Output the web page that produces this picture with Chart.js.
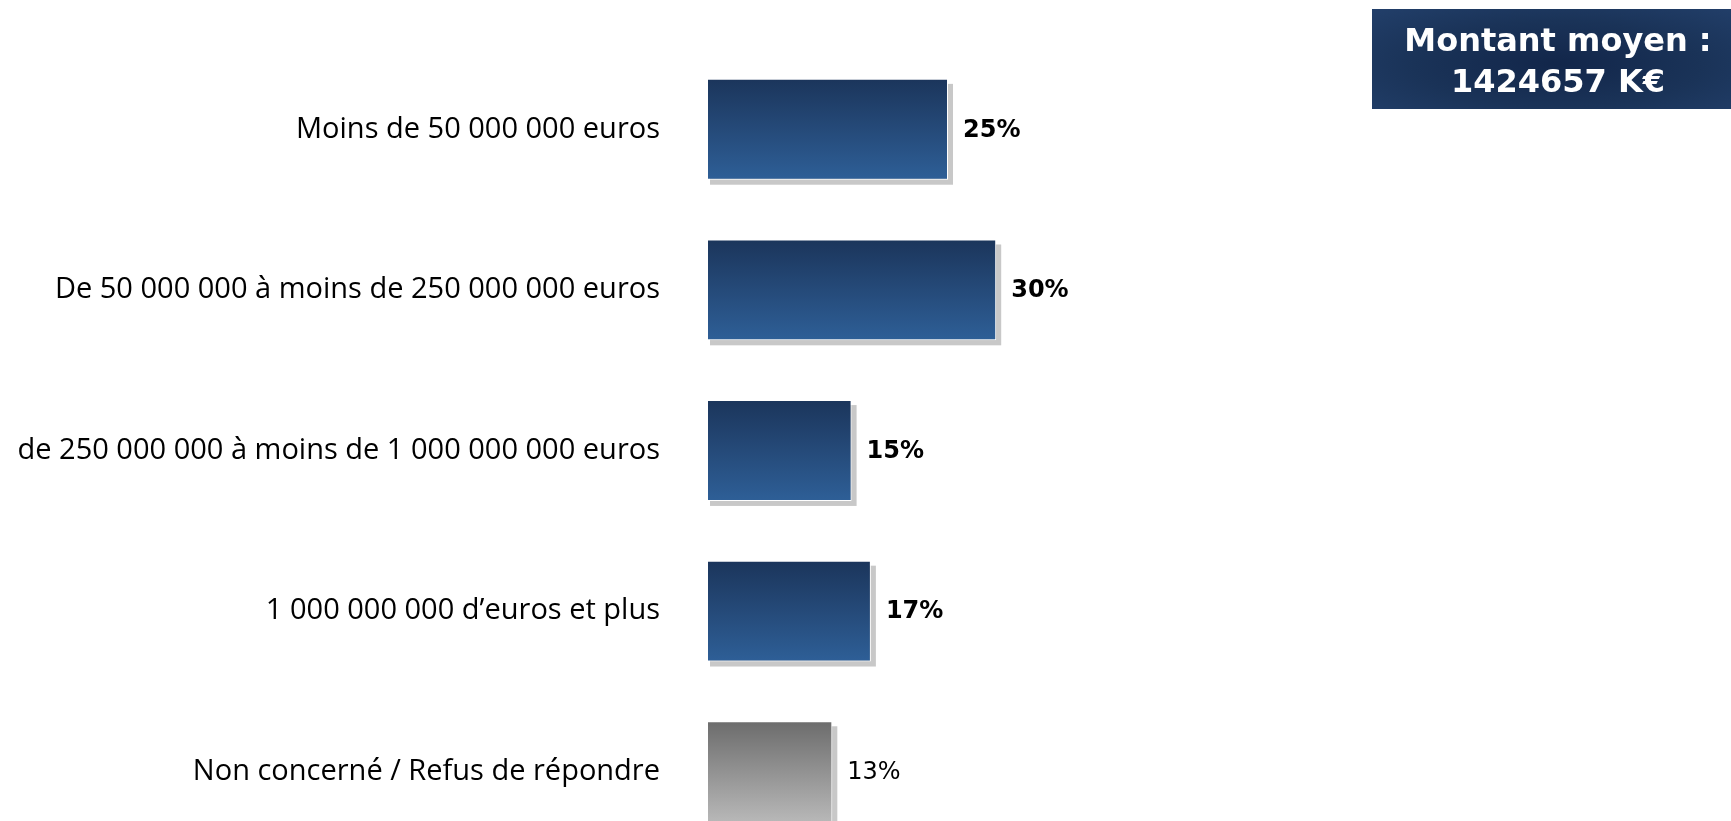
<!DOCTYPE html>
<html>
<head>
<meta charset="utf-8">
<script src="https://cdn.jsdelivr.net/npm/chart.js@4/dist/chart.umd.min.js"></script>
<style>
    html, body { margin: 0; padding: 0; background: #fff; overflow: hidden; }
    #wrap { position: relative; width: 1731px; height: 852px; }
    #avg {
        position: absolute; left: 1372px; top: 9px; width: 372px; height: 100px;
        background: radial-gradient(ellipse at 50% 55%, #12264a 0%, #1a3358 55%, #223f6a 100%);
        color: #fff; font-family: "DejaVu Sans", sans-serif; font-weight: bold;
        font-size: 32px; line-height: 41px; text-align: center;
        box-sizing: border-box; padding-top: 11px; padding-right: 0;
    }
</style>
</head>
<body>
<div id="wrap">
    <canvas id="barChart" width="1731" height="852"></canvas>
    <div id="avg"></div>
</div>
<script>
(function () {
    "use strict";

    // --- Data -----------------------------------------------------------
    const categories = [
        "Moins de 50 000 000 euros",
        "De 50 000 000 à moins de 250 000 000 euros",
        "de 250 000 000 à moins de 1 000 000 000 euros",
        "1 000 000 000 d’euros et plus",
        "Non concerné / Refus de répondre"
    ];
    const values = [25, 30, 15, 17, 13];
    const isAnswer = [true, true, true, true, false];   // last one drawn grey
    const avgLines = ["Montant moyen :", "1424657 K€"];

    document.getElementById("avg").innerHTML = avgLines.join("<br>");

    const BAR_PCT = 0.628;

    // per-bar vertical gradient, built from the y scale position
    function barFill(context) {
        const chart = context.chart;
        const y = chart.scales.y;
        const flat = isAnswer[context.dataIndex] ? "#264c7c" : "#949494";
        if (!y || context.dataIndex === undefined) return flat;
        const band = (y.bottom - y.top) / categories.length;
        const c = y.getPixelForValue(context.dataIndex);
        const h = band * BAR_PCT / 2;
        if (!isFinite(c) || !isFinite(h) || h <= 0) return flat;
        const g = chart.ctx.createLinearGradient(0, c - h, 0, c + h);
        if (isAnswer[context.dataIndex]) {
            g.addColorStop(0, "#1b355b");
            g.addColorStop(0.5, "#254a79");
            g.addColorStop(1, "#2e5f97");
        } else {
            g.addColorStop(0, "#6c6c6c");
            g.addColorStop(1, "#b8b8b8");
        }
        return g;
    }

    // flat grey drop shadow behind each bar (bar element clips its own shadow)
    const shadowPlugin = {
        id: "barShadow",
        beforeDatasetsDraw(chart) {
            const ctx = chart.ctx;
            const meta = chart.getDatasetMeta(0);
            ctx.save();
            ctx.fillStyle = "#c8c8c8";
            meta.data.forEach(bar => {
                const p = bar.getProps(["x", "y", "base", "height"], true);
                ctx.fillRect(p.base + 3, p.y - p.height / 2 + 5, p.x - p.base + 2, p.height);
            });
            ctx.restore();
        }
    };

    // percentage labels right of each bar
    const valueLabels = {
        id: "valueLabels",
        afterDraw(chart) {
            const ctx = chart.ctx;
            const meta = chart.getDatasetMeta(0);
            ctx.save();
            ctx.fillStyle = "#000";
            ctx.textBaseline = "middle";
            ctx.textAlign = "left";
            meta.data.forEach((bar, i) => {
                ctx.font = (isAnswer[i] ? "bold " : "") + "24px 'DejaVu Sans'";
                ctx.fillText(values[i] + "%", bar.x + 15, bar.y + 1);
            });
            ctx.restore();
        }
    };

    new Chart(document.getElementById("barChart"), {
        type: "bar",
        data: {
            labels: categories,
            datasets: [{
                data: values,
                backgroundColor: barFill,
                borderColor: "#ffffff",
                borderWidth: 1,
                borderSkipped: false,
                barPercentage: BAR_PCT,
                categoryPercentage: 1
            }]
        },
        options: {
            indexAxis: "y",
            responsive: false,
            animation: false,
            layout: { padding: { top: 49, right: 60, bottom: 0, left: 0 } },
            scales: {
                x: { display: false, min: 0, max: 100 },
                y: {
                    grid: { display: false, drawTicks: false },
                    border: { display: false },
                    ticks: {
                        padding: 47,
                        color: "#000",
                        font: { family: "'Open Sans'", size: 29 }
                    },
                    afterFit(scale) {
                        scale.width = 707;
                        scale.paddingTop = 0;
                        scale.paddingBottom = 0;
                    }
                }
            },
            plugins: {
                legend: { display: false },
                tooltip: { enabled: false }
            }
        },
        plugins: [shadowPlugin, valueLabels]
    });
})();
</script>
</body>
</html>
